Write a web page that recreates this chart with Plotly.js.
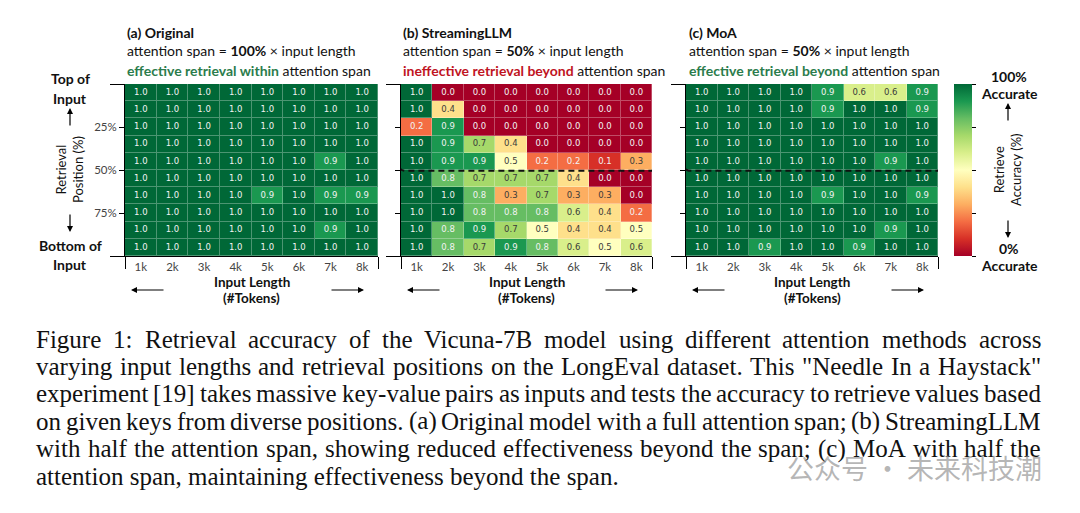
<!DOCTYPE html>
<html><head><meta charset="utf-8">
<script src="https://cdn.plot.ly/plotly-3.0.1.min.js"></script>
<style>html,body{margin:0;padding:0;background:#fff}#chart{width:1080px;height:513px}</style>
</head><body><div id="chart"></div>
<script>
// ---------------- data ----------------
const inputLengths = ['1k','2k','3k','4k','5k','6k','7k','8k'];
const positionTickLabels = ['25%','50%','75%'];
const positionTickRows = [2, 4.5, 7];   // 25% / 50% / 75% of the 10 depth rows

const originalAcc = [
  [1.0,1.0,1.0,1.0,1.0,1.0,1.0,1.0],
  [1.0,1.0,1.0,1.0,1.0,1.0,1.0,1.0],
  [1.0,1.0,1.0,1.0,1.0,1.0,1.0,1.0],
  [1.0,1.0,1.0,1.0,1.0,1.0,1.0,1.0],
  [1.0,1.0,1.0,1.0,1.0,1.0,0.9,1.0],
  [1.0,1.0,1.0,1.0,1.0,1.0,1.0,1.0],
  [1.0,1.0,1.0,1.0,0.9,1.0,0.9,0.9],
  [1.0,1.0,1.0,1.0,1.0,1.0,1.0,1.0],
  [1.0,1.0,1.0,1.0,1.0,1.0,0.9,1.0],
  [1.0,1.0,1.0,1.0,1.0,1.0,1.0,1.0]
];
const streamingAcc = [
  [1.0,0.0,0.0,0.0,0.0,0.0,0.0,0.0],
  [1.0,0.4,0.0,0.0,0.0,0.0,0.0,0.0],
  [0.2,0.9,0.0,0.0,0.0,0.0,0.0,0.0],
  [1.0,0.9,0.7,0.4,0.0,0.0,0.0,0.0],
  [1.0,0.9,0.9,0.5,0.2,0.2,0.1,0.3],
  [1.0,0.8,0.7,0.7,0.7,0.4,0.0,0.0],
  [1.0,1.0,0.8,0.3,0.7,0.3,0.3,0.0],
  [1.0,1.0,0.8,0.8,0.8,0.6,0.4,0.2],
  [1.0,0.8,0.9,0.7,0.5,0.4,0.4,0.5],
  [1.0,0.8,0.7,0.9,0.8,0.6,0.5,0.6]
];
const moaAcc = [
  [1.0,1.0,1.0,1.0,0.9,0.6,0.6,0.9],
  [1.0,1.0,1.0,1.0,0.9,1.0,1.0,0.9],
  [1.0,1.0,1.0,1.0,1.0,1.0,1.0,1.0],
  [1.0,1.0,1.0,1.0,1.0,1.0,1.0,1.0],
  [1.0,1.0,1.0,1.0,1.0,1.0,0.9,1.0],
  [1.0,1.0,1.0,1.0,1.0,1.0,1.0,1.0],
  [1.0,1.0,1.0,1.0,0.9,1.0,1.0,0.9],
  [1.0,1.0,1.0,1.0,1.0,1.0,1.0,1.0],
  [1.0,1.0,1.0,1.0,1.0,1.0,0.9,1.0],
  [1.0,1.0,0.9,1.0,1.0,0.9,1.0,1.0]
];

const panelHeads = ['(a) Original','(b) StreamingLLM','(c) MoA'];
const panelSpans = ['100%','50%','50%'];
const panelEffects = ['effective retrieval within','ineffective retrieval beyond','effective retrieval beyond'];
const panelEffectGood = [true,false,true];

const captionLines = [
  'Figure 1: Retrieval accuracy of the Vicuna-7B model using different attention methods across',
  'varying input lengths and retrieval positions on the LongEval dataset. This "Needle In a Haystack"',
  'experiment [19] takes massive key-value pairs as inputs and tests the accuracy to retrieve values based',
  'on given keys from diverse positions. (a) Original model with a full attention span; (b) StreamingLLM',
  'with half the attention span, showing reduced effectiveness beyond the span; (c) MoA with half the',
  'attention span, maintaining effectiveness beyond the span.'
];
const watermark = '公众号 · 未来科技潮';

// ---------------- layout constants ----------------
const W = 1080, H = 513;
const panels = [{l:125,r:378},{l:401,r:652},{l:686,r:938}];
const pTop = 84, pBot = 256;
const px = x => x / W, py = y => 1 - y / H;
const GREEN = '#2b7c4c', RED = '#c0141f';
const SANS = 'Lato, "Liberation Sans", sans-serif';

const colorscale = [
  [0.0,'#a50026'],[0.1,'#d73027'],[0.2,'#f46d43'],[0.3,'#fdae61'],[0.4,'#fee08b'],
  [0.5,'#ffffbf'],[0.6,'#d9ef8b'],[0.7,'#a6d96a'],[0.8,'#66bd63'],[0.9,'#1a9850'],[1.0,'#006837']
];

const datasets = [originalAcc, streamingAcc, moaAcc];
const colIdx = inputLengths.map((_, i) => i);
const rowIdx = originalAcc.map((_, i) => i);

const traces = [];
const layout = {
  width: W, height: H, margin: {l:0, r:0, t:0, b:0},
  paper_bgcolor: '#fff', plot_bgcolor: '#fff', showlegend: false,
  font: {family: SANS, color: '#111'},
  coloraxis: {
    cmin: 0, cmax: 1, colorscale: colorscale,
    colorbar: {
      x: px(954), xanchor: 'left', y: py(pTop), yanchor: 'top',
      len: pBot - pTop, lenmode: 'pixels', thickness: 18, thicknessmode: 'pixels',
      outlinewidth: 0, xpad: 0, ypad: 0,
      ticks: 'outside', ticklen: 4, tickcolor: '#000', tickwidth: 1,
      tickvals: [0, 0.25, 0.5, 0.75, 1], showticklabels: false
    }
  },
  annotations: [], shapes: []
};
const A = layout.annotations;
const lab = (t, x, y, size, extra) => A.push(Object.assign({text:t, x:px(x), y:py(y), xref:'paper', yref:'paper',
  xanchor:'center', yanchor:'middle', showarrow:false, font:{family:SANS, size:size, color:'#111'}}, extra || {}));
const arrow = (x, y, ax, ay) => A.push({text:'', x:px(x), y:py(y), xref:'paper', yref:'paper', showarrow:true,
  ax: ax, ay: ay, arrowhead: 2, arrowsize: 1, arrowwidth: 1.2, arrowcolor: '#000'});

datasets.forEach((z, i) => {
  const s = i === 0 ? '' : String(i + 1);
  const xa = 'x' + s, ya = 'y' + s;
  // lighter underlay: shows through the cell gaps as tinted grid lines
  traces.push({type:'heatmap', z: z, x: colIdx, y: rowIdx, coloraxis:'coloraxis',
    opacity: 0.7, xaxis: xa, yaxis: ya, hoverinfo: 'skip'});
  traces.push({type:'heatmap', z: z, x: colIdx, y: rowIdx, coloraxis:'coloraxis',
    xgap: 1, ygap: 1, xaxis: xa, yaxis: ya});
  const tx = [], ty = [], tt = [], tc = [];
  z.forEach((row, r) => row.forEach((v, c) => {
    tx.push(c); ty.push(r); tt.push(v.toFixed(1));
    tc.push((v >= 0.8 || v <= 0.2) ? '#f2f2f2' : '#3a3a3a');
  }));
  traces.push({type:'scatter', mode:'text', x: tx, y: ty, text: tt,
    textfont: {family:'"DejaVu Sans", sans-serif', size: 8.5, color: tc},
    textposition: 'middle center', xaxis: xa, yaxis: ya, hoverinfo: 'skip'});

  const p = panels[i];
  layout['xaxis' + s] = {
    domain: [px(p.l), px(p.r)], anchor: ya, range: [-0.5, 7.5],
    tickmode: 'array', tickvals: colIdx, ticktext: inputLengths, ticks: '',
    tickfont: {family: SANS, size: 11.5, color: '#444'},
    showline: true, linecolor: '#000', linewidth: 1, showgrid: false, zeroline: false,
    minor: {ticks: 'outside', tickmode: 'array', tickvals: [-0.5, 7.5], ticklen: 12, tickcolor: '#000', tickwidth: 1, showgrid: false},
    fixedrange: true
  };
  layout['yaxis' + s] = {
    domain: [py(pBot), py(pTop)], anchor: xa, range: [9.5, -0.5],
    tickmode: 'array', tickvals: positionTickRows, ticktext: positionTickLabels,
    ticks: 'outside', ticklen: 5, tickcolor: '#000', tickwidth: 1,
    showticklabels: i === 0, tickfont: {family: SANS, size: 11.5, color: '#444'},
    showline: true, linecolor: '#000', linewidth: 1, showgrid: false, zeroline: false,
    minor: {ticks: 'outside', tickmode: 'array', tickvals: [-0.5, 9.5], ticklen: 14, tickcolor: '#000', tickwidth: 1, showgrid: false},
    fixedrange: true
  };

  // panel titles
  const tl = i === 2 ? 687 : p.l;
  const tf = {family:SANS, size:14, color:'#111'};
  A.push({text: '<b>' + panelHeads[i] + '</b>', x: px(tl), y: py(32), xref:'paper', yref:'paper',
    xanchor:'left', yanchor:'middle', showarrow:false, font:tf});
  A.push({text: 'attention span = <b>' + panelSpans[i] + '</b> × input length', x: px(tl), y: py(51), xref:'paper', yref:'paper',
    xanchor:'left', yanchor:'middle', showarrow:false, font:tf});
  A.push({text: '<span style="color:' + (panelEffectGood[i] ? GREEN : RED) + '"><b>' + panelEffects[i] + '</b></span> attention span',
    x: px(tl), y: py(70), xref:'paper', yref:'paper',
    xanchor:'left', yanchor:'middle', showarrow:false, font:tf});

  // x-axis titles + arrows
  const cx = (p.l + p.r) / 2;
  lab('<b>Input Length</b>', cx, 282, 13.5);
  lab('<b>(#Tokens)</b>', cx, 298, 13.5);
  arrow(p.l + 6, 290, 34, 0);
  arrow(p.r - 14, 290, -34, 0);
});

// dashed boxes around the attention-span region (rows above 50%) in (b) and (c)
function roundBox(x0, x1, y0, y1, rx, ry) {
  return `M ${x0+rx},${y0} L ${x1-rx},${y0} Q ${x1},${y0} ${x1},${y0+ry} L ${x1},${y1-ry} Q ${x1},${y1} ${x1-rx},${y1} ` +
         `L ${x0+rx},${y1} Q ${x0},${y1} ${x0},${y1-ry} L ${x0},${y0+ry} Q ${x0},${y0} ${x0+rx},${y0} Z`;
}
[['x2','y2'],['x3','y3']].forEach(([xr, yr]) => {
  layout.shapes.push({type:'path', xref: xr, yref: yr, path: roundBox(-0.6, 7.72, -0.68, 4.55, 0.28, 0.5),
    line: {color:'#111', width: 2, dash: '6px,4px'}, fillcolor: 'rgba(0,0,0,0)', layer: 'above'});
});

// left axis labels
lab('<b>Top of</b>', 70, 78, 14);
lab('<b>Input</b>', 70, 98, 14);
lab('Retrieval<br>Position (%)', 69, 170, 13, {textangle: -90});
lab('<b>Bottom of</b>', 70, 245, 14);
lab('<b>Input</b>', 70, 264, 14);
arrow(70, 108, 0, 19);
arrow(70, 232, 0, -19);

// colorbar labels
lab('<b>100%</b>', 1009, 76, 14);
lab('<b>Accurate</b>', 1009, 93, 14);
lab('Retrieve<br>Accuracy (%)', 1007, 170, 13, {textangle: -90});
lab('<b>0%</b>', 1009, 248, 14);
lab('<b>Accurate</b>', 1009, 265, 14);
arrow(1008, 103, 0, 19);
arrow(1008, 238, 0, -19);

// caption, justified word by word
const capSize = 25, capLeft = 35, capRight = 1040, capTop = 339, capStep = 27.4;
const SERIF = '"Liberation Serif", "Times New Roman", serif';
const ctx = document.createElement('canvas').getContext('2d');
ctx.font = capSize + 'px "Liberation Serif"';
captionLines.forEach((line, li) => {
  const y = capTop + li * capStep;
  const words = line.split(' ');
  if (li === captionLines.length - 1) {
    A.push({text: line, x: px(capLeft), y: py(y), xref:'paper', yref:'paper', xanchor:'left', yanchor:'middle',
      showarrow:false, borderpad:0, font:{family:SERIF, size:capSize, color:'#111'}});
    return;
  }
  const widths = words.map(w => ctx.measureText(w).width);
  const total = widths.reduce((a, b) => a + b, 0);
  const gap = Math.max(3, (capRight - capLeft - total) / (words.length - 1));
  let x = capLeft;
  words.forEach((w, wi) => {
    A.push({text: w, x: px(x), y: py(y), xref:'paper', yref:'paper', xanchor:'left', yanchor:'middle',
      showarrow:false, borderpad:0, font:{family:SERIF, size:capSize, color:'#111'}});
    x += widths[wi] + gap;
  });
});

// watermark
A.push({text: watermark, x: px(1044), y: py(467), xref:'paper', yref:'paper', xanchor:'right', yanchor:'middle',
  showarrow:false, font:{family:'"Noto Sans CJK SC", sans-serif', size:27, color:'rgba(150,150,150,0.7)'}});

Plotly.newPlot('chart', traces, layout, {displayModeBar: false, staticPlot: true});
</script>
</body></html>
